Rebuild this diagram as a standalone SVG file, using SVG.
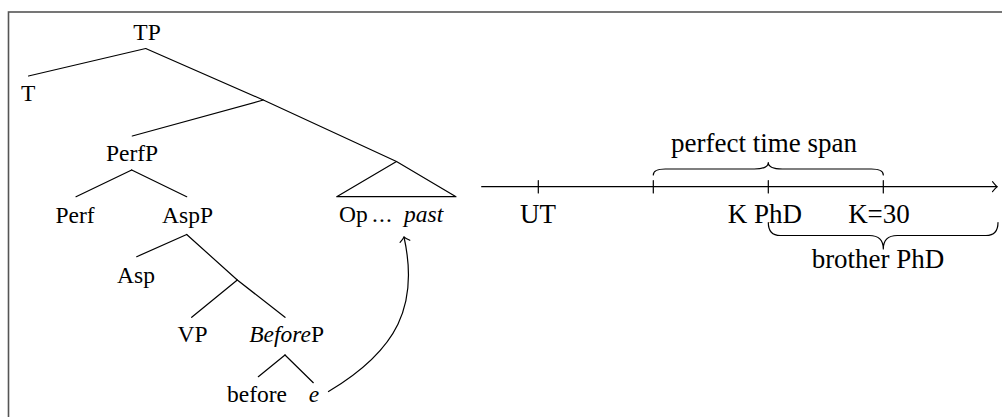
<svg xmlns="http://www.w3.org/2000/svg" width="1002" height="417" viewBox="0 0 1002 417">
<style>
text{font-family:"Liberation Serif","Times New Roman",serif;fill:#000;}
.t{font-size:23.5px;text-anchor:middle;}
.tl{font-size:27px;text-anchor:middle;}
.i{font-style:italic;}
.ln{fill:none;stroke:#000;stroke-width:1.2;stroke-linecap:round;stroke-linejoin:round;}
</style>
<defs>
<marker id="tip" markerUnits="userSpaceOnUse" viewBox="-7 -7 9 14" refX="0" refY="0" markerWidth="9" markerHeight="14" orient="auto" overflow="visible">
<path d="M-4.5,-5 Q-1.5,-1.2 0,0 Q-1.5,1.2 -4.5,5" fill="none" stroke="#000" stroke-width="1.1" stroke-linecap="round"/>
</marker>
</defs>
<rect x="8.5" y="12" width="1010" height="420" fill="#fff" stroke="#555" stroke-width="1.6"/>

<g id="connectors" class="ln">
<path d="M145.7,48.5 L28.5,76"/>
<path d="M145.7,48.5 L263.3,100 L396.5,161.5"/>
<path d="M263.3,100 L132.3,136"/>
<path d="M396.5,161.5 L336.7,196.7 L456,196.7 Z"/>
<path d="M131.7,170 L76,196.7"/>
<path d="M131.7,170 L186.7,196.7"/>
<path d="M186.7,234.5 L136.7,256.7"/>
<path d="M186.7,234.5 L237.3,280 L285,317.3"/>
<path d="M237.3,280 L191.7,317.3"/>
<path d="M285,355 L258.3,376.7"/>
<path d="M285,355 L313.3,382.7"/>
<path d="M328.5,391.5 C398,350 419,305 404,237" marker-end="url(#tip)"/>
</g>

<g id="TP"><text class="t" x="147" y="40">TP</text></g>
<g id="T"><text class="t" x="28.3" y="100.5">T</text></g>
<g id="PerfP"><text class="t" x="132" y="161">PerfP</text></g>
<g id="Perf"><text class="t" x="75" y="222.5">Perf</text></g>
<g id="AspP"><text class="t" x="187.5" y="222.5">AspP</text></g>
<g id="OpPast"><text style="font-size:23.5px" y="221.7"><tspan x="339">Op</tspan><tspan x="372">.</tspan><tspan x="379">.</tspan><tspan x="386">.</tspan><tspan x="404" class="i">past</tspan></text></g>
<g id="Asp"><text class="t" x="136" y="283">Asp</text></g>
<g id="VP"><text class="t" x="192.5" y="341.5">VP</text></g>
<g id="BeforeP"><text class="t" x="286.7" y="341.5"><tspan class="i">Before</tspan>P</text></g>
<g id="before"><text class="t" x="257" y="401.5">before</text></g>
<g id="e"><text class="t i" x="314" y="401.5">e</text></g>

<g id="timeline" class="ln">
<path d="M481.7,186.7 L997,186.7" marker-end="url(#tip)"/>
<path d="M538.3,180.5 V193 M653.3,180.5 V193 M768.3,180.5 V193 M883.3,180.5 V193"/>
</g>
<g id="braces" class="ln">
<path d="M653.3,175 Q653.3,169 665.3,169 L754.3,169 Q768.3,169 768.3,162.5 Q768.3,169 782.3,169 L871.3,169 Q883.3,169 883.3,175"/>
<path d="M768.3,222.5 Q768.3,235.5 780.3,235.5 L869.3,235.5 Q883.3,235.5 883.3,249 Q883.3,235.5 897.3,235.5 L986,235.5 Q998,235.5 998,222.5"/>
</g>
<g id="UT"><text class="tl" x="538" y="222.5">UT</text></g>
<g id="KPhD"><text class="tl" x="765" y="222.5">K PhD</text></g>
<g id="K30"><text class="tl" x="879" y="222.5">K=30</text></g>
<g id="perfectSpan"><text class="tl" x="764" y="152.3">perfect time span</text></g>
<g id="brotherPhD"><text class="tl" x="878" y="268">brother PhD</text></g>
</svg>
